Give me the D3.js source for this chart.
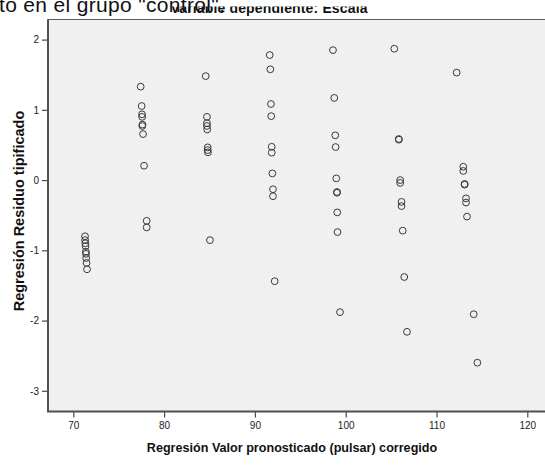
<!DOCTYPE html>
<html>
<head>
<meta charset="utf-8">
<script src="https://cdn.jsdelivr.net/npm/d3@7"></script>
<style>
  html, body { margin: 0; padding: 0; background: #fff; }
  svg { display: block; font-family: "Liberation Sans", Arial, sans-serif; }
</style>
</head>
<body>
<svg id="chart" width="545" height="465"></svg>
<script>
// Predicted values (x) and standardized residuals (y)
const predicted = [
  71.29, 71.30, 71.32, 71.35, 71.38, 71.40, 71.42, 71.46, 71.51,
  77.42, 77.53, 77.57, 77.58, 77.62, 77.60, 77.68, 77.79, 78.08, 78.08,
  84.58, 84.72, 84.72, 84.72, 84.75, 84.80, 84.80, 84.83, 85.05,
  91.63, 91.70, 91.77, 91.80, 91.85, 91.85, 91.92, 91.99, 91.99, 92.18,
  98.60, 98.74, 98.85, 98.89, 98.96, 99.04, 99.04, 99.07, 99.10, 99.37,
  105.35, 105.84, 105.86, 106.00, 106.00, 106.15, 106.15, 106.28, 106.45, 106.75,
  112.22, 112.95, 112.95, 113.10, 113.10, 113.25, 113.25, 113.36, 114.10, 114.50
];
const residuals = [
  -0.80, -0.855, -0.90, -0.94, -1.02, -1.05, -1.11, -1.18, -1.27,
  1.33, 1.054, 0.936, 0.90, 0.79, 0.77, 0.655, 0.204, -0.58, -0.674,
  1.48, 0.90, 0.81, 0.77, 0.72, 0.466, 0.427, 0.395, -0.855,
  1.78, 1.577, 1.083, 0.91, 0.474, 0.39, 0.095, -0.13, -0.23, -1.44,
  1.85, 1.17, 0.637, 0.47, 0.024, -0.17, -0.18, -0.46, -0.74, -1.88,
  1.87, 0.585, 0.575, 0.0, -0.04, -0.31, -0.37, -0.72, -1.38, -2.16,
  1.53, 0.19, 0.13, -0.055, -0.065, -0.26, -0.32, -0.52, -1.91, -2.60
];
const xTicks = [70, 80, 90, 100, 110, 120];
const yTicks = [-3, -2, -1, 0, 1, 2];
const xTitle = "Regresión Valor pronosticado (pulsar) corregido";
const yTitle = "Regresión Residuo tipificado";
const chartTitle = "Variable dependiente: Escala";
const captionText = "to en el grupo \"control\".";

const svg = d3.select("#chart");
const plot = { left: 48, top: 19.5, right: 548, bottom: 411.5 };

const x = d3.scaleLinear().domain([70, 120]).range([73.3, 527.3]);
const y = d3.scaleLinear().domain([-3, 2]).range([390.8, 39.6]);

// plot background
svg.append("rect")
  .attr("x", plot.left).attr("y", plot.top)
  .attr("width", plot.right - plot.left).attr("height", plot.bottom - plot.top)
  .attr("fill", "#f0f0f0")
  .attr("stroke", "#5a5a5a").attr("stroke-width", 1);

// points
svg.append("g").selectAll("circle")
  .data(predicted.map((v, i) => [v, residuals[i]]))
  .join("circle")
  .attr("cx", d => x(d[0]))
  .attr("cy", d => y(d[1]))
  .attr("r", 3.4)
  .attr("fill", "none")
  .attr("stroke", "#3a3a3a")
  .attr("stroke-width", 1);

// axes
const xAxis = svg.append("g")
  .attr("transform", `translate(0,${plot.bottom})`)
  .call(d3.axisBottom(x).tickValues(xTicks).tickSize(6).tickPadding(4).tickFormat(d3.format("d")));
const yAxis = svg.append("g")
  .attr("transform", `translate(${plot.left},0)`)
  .call(d3.axisLeft(y).tickValues(yTicks).tickSize(6).tickPadding(3).tickFormat(d3.format("d")));

[xAxis, yAxis].forEach(a => {
  a.select(".domain").remove();
  a.selectAll(".tick line").attr("stroke", "#4a4a4a").attr("stroke-width", 1.2);
  a.selectAll(".tick text").attr("fill", "#222").style("font-size", "10px")
    .style("font-family", "'Liberation Sans', Arial, sans-serif");
});
yAxis.selectAll(".tick text").text(d => d < 0 ? "-" + Math.abs(d) : d);

// axis lines
svg.append("line").attr("x1", plot.left).attr("x2", plot.left)
  .attr("y1", plot.top).attr("y2", plot.bottom + 0.5)
  .attr("stroke", "#505050").attr("stroke-width", 2);
svg.append("line").attr("x1", plot.left - 1).attr("x2", plot.right)
  .attr("y1", plot.bottom).attr("y2", plot.bottom)
  .attr("stroke", "#505050").attr("stroke-width", 2);

// axis titles
svg.append("text")
  .attr("x", 292).attr("y", 452)
  .attr("text-anchor", "middle")
  .style("font-size", "12.6px").style("font-weight", "bold").attr("fill", "#111")
  .text(xTitle);
svg.append("text")
  .attr("transform", `translate(23.5,211) rotate(-90)`)
  .attr("text-anchor", "middle")
  .style("font-size", "14.5px").style("font-weight", "bold").attr("fill", "#111")
  .text(yTitle);

// chart title (partially hidden at the top)
svg.append("text")
  .attr("x", 269).attr("y", 13)
  .attr("text-anchor", "middle")
  .style("font-size", "14px").style("font-weight", "bold").attr("fill", "#111")
  .attr("textLength", 197)
  .text(chartTitle);
svg.append("rect").attr("x", 0).attr("y", 0).attr("width", 545).attr("height", 6.5).attr("fill", "#fff");

// caption text from the document above (cut at the top)
svg.append("text")
  .attr("x", -1).attr("y", 12.3)
  .style("font-size", "21px").attr("fill", "#111")
  .attr("textLength", 226)
  .text(captionText);
</script>
</body>
</html>
